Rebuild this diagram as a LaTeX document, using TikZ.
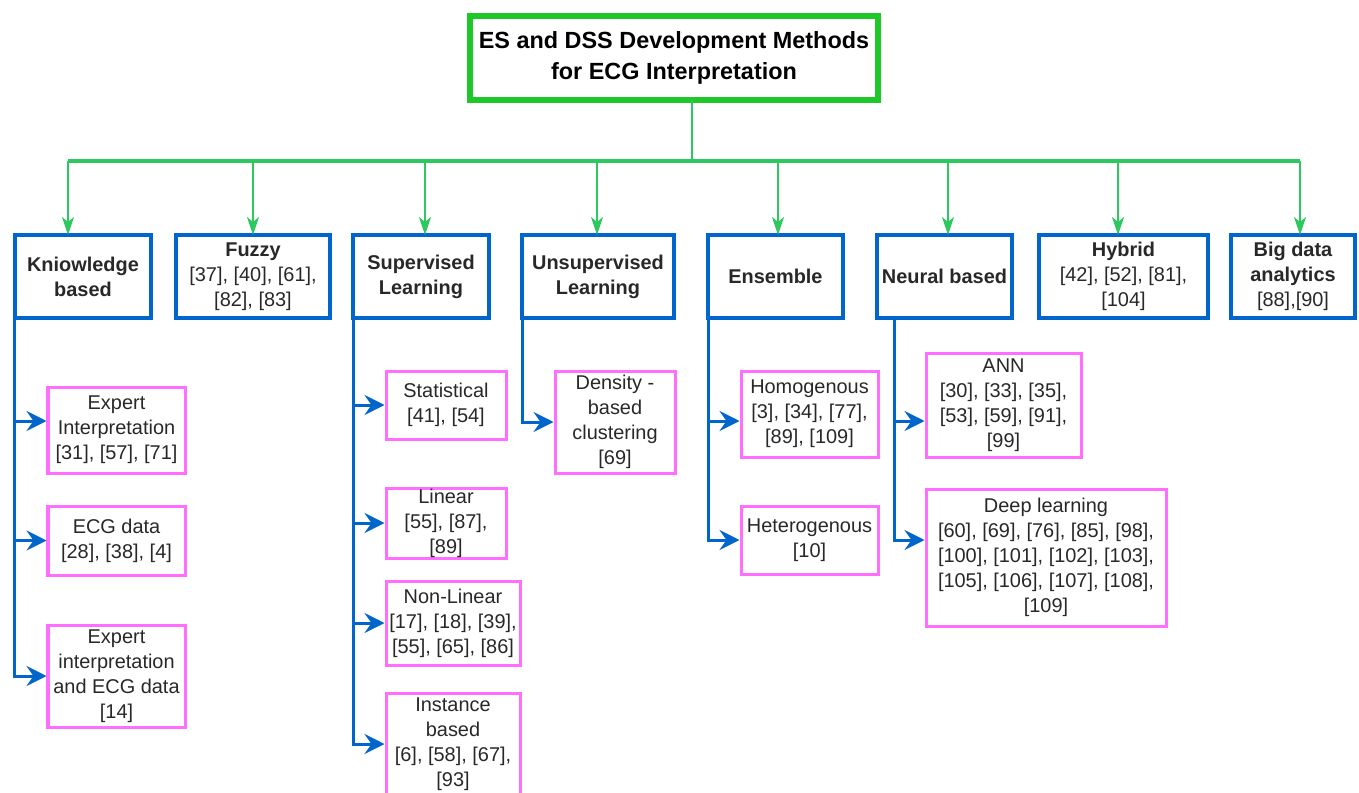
\documentclass[tikz,border=0pt]{standalone}
\usepackage{fontspec}
\setmainfont{Liberation Sans}
\usetikzlibrary{arrows.meta}
\definecolor{titlegreen}{RGB}{30,200,40}
\definecolor{linkgreen}{RGB}{45,200,95}
\definecolor{boxblue}{RGB}{0,102,204}
\definecolor{leafpink}{RGB}{255,110,255}
\definecolor{txtgray}{RGB}{40,40,40}

\begin{document}
\begin{tikzpicture}[x=1bp, y=-1bp,
  titlebox/.style={draw=titlegreen, line width=6bp, outer sep=0pt, inner sep=0pt, minimum width=408bp, minimum height=84bp, align=center, font=\fontsize{23.5}{31}\selectfont\bfseries},
  catbox/.style={draw=boxblue, line width=4bp, outer sep=0pt, inner sep=0pt, minimum height=83bp, align=center, text=txtgray, font=\fontsize{20}{25}\selectfont},
  leafbox/.style={draw=leafpink, line width=3bp, inner sep=0pt, align=center, text=txtgray, font=\fontsize{20}{25}\selectfont},
  glink/.style={draw=linkgreen, line width=2.5bp},
  garrow/.style={glink, -{Stealth[length=18bp, width=12bp, inset=5bp]}},
  barrow/.style={draw=boxblue, line width=3bp, -{Stealth[length=20bp, width=20bp, inset=7bp]}}]
\useasboundingbox (0,0) rectangle (1359,792);

\node[titlebox] (title) at (674,58) {ES and DSS Development Methods\\for ECG Interpretation};

\node[catbox, minimum width=136bp] (kb) at (83,276.5) {\textbf{Kniowledge}\\\textbf{based}};
\node[catbox, minimum width=154bp] (fz) at (253,276.5) {\textbf{Fuzzy}\\{}[37], [40], [61],\\{}[82], [83]};
\node[catbox, minimum width=136bp] (sl) at (421,276.5) {\textbf{Supervised}\\\textbf{Learning}};
\node[catbox, minimum width=152bp] (ul) at (598,276.5) {\textbf{Unsupervised}\\\textbf{Learning}};
\node[catbox, minimum width=135bp] (en) at (775.5,276.5) {\textbf{Ensemble}};
\node[catbox, minimum width=135bp] (nb) at (944.5,276.5) {\textbf{Neural based}};
\node[catbox, minimum width=169bp] (hy) at (1123.5,276.5) {\textbf{Hybrid}\\{}[42], [52], [81],\\{}[104]};
\node[catbox, minimum width=124bp] (bd) at (1293,276.5) {\textbf{Big data}\\\textbf{analytics}\\{}[88],[90]};

\node[leafbox, minimum width=137bp, minimum height=86bp] (ei) at (116.5,430) {Expert\\Interpretation\\{}[31], [57], [71]};
\node[leafbox, minimum width=137bp, minimum height=69bp] (ecg) at (116.5,540.5) {ECG data\\{}[28], [38], [4]};
\node[leafbox, minimum width=137bp, minimum height=102bp] (eiecg) at (116.5,676) {Expert\\interpretation\\and ECG data\\{}[14]};

\node[leafbox, minimum width=120bp, minimum height=68bp] (stat) at (446,405) {Statistical\\{}[41], [54]};
\node[leafbox, minimum width=120bp, minimum height=70bp] (lin) at (446,523) {Linear\\{}[55], [87],\\{}[89]};
\node[leafbox, minimum width=134bp, minimum height=84bp] (nonlin) at (453,623) {Non-Linear\\{}[17], [18], [39],\\{}[55], [65], [86]};
\node[leafbox, minimum width=134bp, minimum height=102bp] (inst) at (453,744) {Instance\\based\\{}[6], [58], [67],\\{}[93]};

\node[leafbox, minimum width=120bp, minimum height=102bp] (dens) at (615,422) {Density -\\based\\clustering\\{}[69]};

\node[leafbox, minimum width=137bp, minimum height=86bp] (homo) at (809.5,414) {Homogenous\\{}[3], [34], [77],\\{}[89], [109]};
\node[leafbox, minimum width=137bp, minimum height=68bp] (hetero) at (809.5,540) {Heterogenous\\{}[10]};

\node[leafbox, minimum width=155bp, minimum height=104bp] (ann) at (1003.5,405) {ANN\\{}[30], [33], [35],\\{}[53], [59], [91],\\{}[99]};
\node[leafbox, minimum width=240bp, minimum height=137bp] (deep) at (1046,557.5) {Deep learning\\{}[60], [69], [76], [85], [98],\\{}[100], [101], [102], [103],\\{}[105], [106], [107], [108],\\{}[109]};

\coordinate (bus) at (692,161);
\coordinate (busl) at (68,161);
\coordinate (busr) at (1300,161);
\draw[glink] (title.south -| bus) -- (bus);
\draw[glink, line width=3.5bp] (busl) -- (busr);
\foreach \n/\x in {kb/68, fz/253, sl/425, ul/597, en/778, nb/948, hy/1118, bd/1300}
  \draw[garrow] (bus -| \x,0) -- (\n.north -| \x,0);

\draw[barrow] (kb.south west) |- ([yshift=9bp]ei.west);
\draw[barrow] (kb.south west) |- (ecg.west);
\draw[barrow] (kb.south west) |- (eiecg.west);

\draw[barrow] (sl.south west) |- (stat.west);
\draw[barrow] (sl.south west) |- (lin.west);
\draw[barrow] (sl.south west) |- (nonlin.west);
\draw[barrow] (sl.south west) |- (inst.west);

\draw[barrow] (ul.south west) |- (dens.west);

\draw[barrow] (en.south west) |- ([yshift=-7bp]homo.west);
\draw[barrow] (en.south west) |- (hetero.west);

\draw[barrow] ([xshift=17bp]nb.south west) |- ([yshift=-16bp]ann.west);
\draw[barrow] ([xshift=17bp]nb.south west) |- ([yshift=17.5bp]deep.west);
\end{tikzpicture}
\end{document}
